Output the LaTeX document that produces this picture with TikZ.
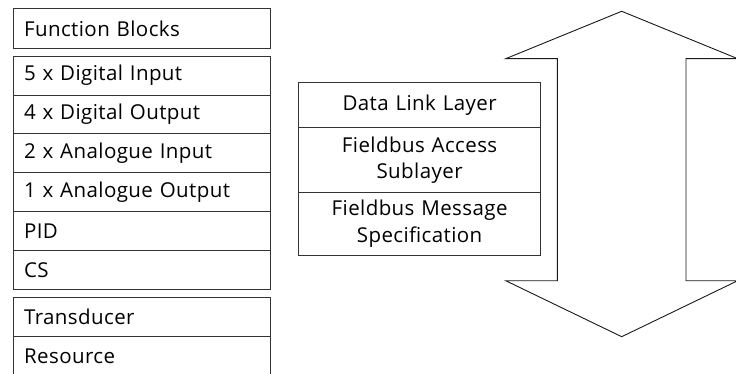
\documentclass[tikz,border=0pt]{standalone}
\usepackage{fontspec}
\setmainfont[LetterSpace=2]{Open Sans}
\begin{document}
\begin{tikzpicture}[x=1pt,y=-1pt,
  box/.style={draw=black!80,line width=0.9pt,rectangle,inner sep=0pt,font=\fontsize{20.5}{23}\selectfont},
  lbox/.style={box,anchor=north west,minimum width=256.7pt,minimum height=39pt,text width=236pt,align=left},
  mbox/.style={box,anchor=north west,minimum width=241.7pt,text width=230pt,align=center,font=\fontsize{20.5}{26.5}\selectfont},
  arrowline/.style={draw=black!90,line width=0.9pt,line join=miter}]
\useasboundingbox (0,0) rectangle (736,374);
\clip (0,0) rectangle (736,374);
% left column
\node[lbox,minimum height=39.4pt] (fb) at (13.3,8.3) {Function Blocks};
\node[lbox,minimum height=38.9pt] (di) at (13.3,55.7) {5 x Digital Input};
\node[lbox,minimum height=38.9pt] (do) at (13.3,94.6) {4 x Digital Output};
\node[lbox,minimum height=38.9pt] (ai) at (13.3,133.5) {2 x Analogue Input};
\node[lbox,minimum height=38.9pt] (ao) at (13.3,172.4) {1 x Analogue Output};
\node[lbox,minimum height=38.9pt] (pid) at (13.3,211.3) {PID};
\node[lbox,minimum height=38.9pt] (cs) at (13.3,250.2) {CS};
\node[lbox,minimum height=39.3pt] (tr) at (13.3,296.7) {Transducer};
\node[lbox,minimum height=39.3pt] (rs) at (13.3,336) {Resource};
% middle stack
\node[mbox,minimum height=45pt] (dll) at (298.3,82.3) {Data Link Layer};
\node[mbox,minimum height=64.4pt] (fas) at (298.3,127.3) {Fieldbus Access\\Sublayer};
\node[mbox,minimum height=63.3pt] (fms) at (298.3,191.7) {Fieldbus Message\\Specification};
% double arrow
\draw[arrowline] (505.7,58.7) -- (621.7,11.3) -- (737.7,58.7) -- (686,58.7) -- (686,280.7)
  -- (737.7,280.7) -- (621.7,336.7) -- (505.7,280.7) -- (557.3,280.7) -- (557.3,58.7) -- cycle;
\end{tikzpicture}
\end{document}
